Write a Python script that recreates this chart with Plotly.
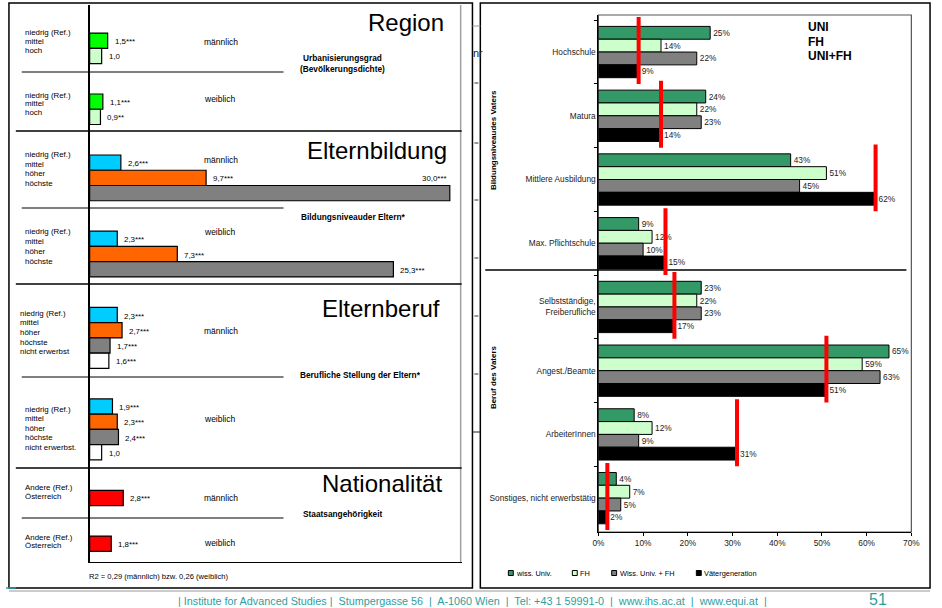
import plotly.graph_objects as go

W, H = 942, 608
FONT = "Liberation Sans, Arial, sans-serif"


def fx(p):
    return p / W


def fy(p):
    return 1 - p / H


# ---------------- left panel: odds ratios by gender ----------------
region_rows = ["niedrig (Ref.)", "mittel", "hoch"]
region_levels = ["mittel", "hoch"]
region_m = [1.5, 1.0]
region_m_sig = ["***", ""]
region_w = [1.1, 0.9]
region_w_sig = ["***", "**"]

bildung_rows = ["niedrig (Ref.)", "mittel", "höher", "höchste"]
bildung_levels = ["mittel", "höher", "höchste"]
bildung_m = [2.6, 9.7, 30.0]
bildung_m_sig = ["***", "***", "***"]
bildung_w = [2.3, 7.3, 25.3]
bildung_w_sig = ["***", "***", "***"]

beruf_rows_m = ["niedrig (Ref.)", "mittel", "höher", "höchste", "nicht erwerbst"]
beruf_rows_w = ["niedrig (Ref.)", "mittel", "höher", "höchste", "nicht erwerbst."]
beruf_levels = ["mittel", "höher", "höchste", "nicht erwerbst."]
beruf_m = [2.3, 2.7, 1.7, 1.6]
beruf_m_sig = ["***", "***", "***", "***"]
beruf_w = [1.9, 2.3, 2.4, 1.0]
beruf_w_sig = ["***", "***", "***", ""]

nat_rows = ["Andere (Ref.)", "Österreich"]
nat_levels = ["Österreich"]
nat_m = [2.8]
nat_m_sig = ["***"]
nat_w = [1.8]
nat_w_sig = ["***"]

section_titles = ["Region", "Elternbildung", "Elternberuf", "Nationalität"]
section_subtitles = ["Urbanisierungsgrad<br>(Bevölkerungsdichte)",
                     "Bildungsniveauder Eltern*",
                     "Berufliche Stellung der Eltern*",
                     "Staatsangehörigkeit"]
gender_labels = ["männlich", "weiblich"]
r2_note = "R2 = 0,29 (männlich) bzw. 0,26 (weiblich)"

# ---------------- right panel: shares by father's background ----------------
vater_categories = ["Hochschule", "Matura", "Mittlere Ausbildung", "Max. Pflichtschule",
                    "Selbstständige,<br>Freiberufliche", "Angest./Beamte",
                    "ArbeiterInnen", "Sonstiges, nicht erwerbstätig"]
uni = [25, 24, 43, 9, 23, 65, 8, 4]
fh = [14, 22, 51, 12, 22, 59, 12, 7]
uni_fh = [22, 23, 45, 10, 23, 63, 9, 5]
vaeter = [9, 14, 62, 15, 17, 51, 31, 2]
series_names = ["wiss. Univ.", "FH", "Wiss. Univ. + FH", "Vätergeneration"]
pct_ticks = [0, 10, 20, 30, 40, 50, 60, 70]

# colours
GREEN, LIGHT = "#00ff00", "#ccffcc"
CYAN, ORANGE, GREY, WHITE, RED = "#00ccff", "#ff6600", "#808080", "#ffffff", "#ff0000"
R_COLORS = ["#339966", "#ccffcc", "#808080", "#000000"]
TEAL = "#2f9ea0"

fig = go.Figure()
shapes = []
ann = []


def text(x, y, s, size=8.5, xa="left", ya="middle", bold=False, color="#000", angle=0):
    ann.append(dict(x=fx(x), y=fy(y), xref="paper", yref="paper", text=s, showarrow=False,
                    xanchor=xa, yanchor=ya, textangle=angle,
                    font=dict(family=FONT, size=size, color=color,
                              weight="bold" if bold else "normal")))


def hline(x0, x1, y, color="#000", w=1.2):
    shapes.append(dict(type="line", xref="paper", yref="paper", x0=fx(x0), x1=fx(x1),
                       y0=fy(y), y1=fy(y), line=dict(color=color, width=w), layer="below"))


# panel frames
shapes.append(dict(type="rect", xref="paper", yref="paper", x0=fx(3), x1=fx(474),
                   y0=fy(3), y1=fy(588), line=dict(color="#000", width=1.5),
                   fillcolor="white", layer="below"))
shapes.append(dict(type="rect", xref="paper", yref="paper", x0=fx(482), x1=fx(939),
                   y0=fy(3), y1=fy(588), line=dict(color="#000", width=1.5),
                   fillcolor="white", layer="below"))
shapes.append(dict(type="line", xref="paper", yref="paper", x0=fx(462), x1=fx(462),
                   y0=fy(5), y1=fy(562), line=dict(color="#a0a0a0", width=1.5), layer="below"))
hline(3, 939, 591, "#9a9a9a", 1.2)
hline(0, 10, 588, TEAL, 1.5)

# ---- left bar chart built from the arrays ----
blocks = [
    (region_levels, region_m, region_m_sig, [GREEN, LIGHT]),
    (region_levels, region_w, region_w_sig, [GREEN, LIGHT]),
    (bildung_levels, bildung_m, bildung_m_sig, [CYAN, ORANGE, GREY]),
    (bildung_levels, bildung_w, bildung_w_sig, [CYAN, ORANGE, GREY]),
    (beruf_levels, beruf_m, beruf_m_sig, [CYAN, ORANGE, GREY, WHITE]),
    (beruf_levels, beruf_w, beruf_w_sig, [CYAN, ORANGE, GREY, WHITE]),
    (nat_levels, nat_m, nat_m_sig, [RED]),
    (nat_levels, nat_w, nat_w_sig, [RED]),
]
cat_order, ys, xs, cols, labels = [], [], [], [], []
for b, (levels, vals, sig, colors) in enumerate(blocks):
    if b > 0:
        cat_order += [f"gap{b}a", f"gap{b}b"]
    for lev, v, s, c in zip(levels, vals, sig, colors):
        key = f"{b}|{lev}"
        cat_order.append(key)
        ys.append(key)
        xs.append(v)
        cols.append(c)
        labels.append(f"{v:.1f}".replace(".", ",") + s)

fig.add_trace(go.Bar(x=xs, y=ys, orientation="h", width=1.0, xaxis="x", yaxis="y",
                     marker=dict(color=cols, line=dict(color="#000", width=1.2)),
                     hoverinfo="skip", showlegend=False))

X1_MAX = (463 - 85) / 12.2
for i, (k, v, lab) in enumerate(zip(ys, xs, labels)):
    if v > 0.9 * X1_MAX:
        prev = cat_order[cat_order.index(k) - 1]
        ann.append(dict(x=v, y=prev, xref="x", yref="y", text=lab, showarrow=False,
                        xanchor="right", yanchor="middle", xshift=-1, yshift=-1,
                        font=dict(family=FONT, size=7.9, color="#000")))
    else:
        ann.append(dict(x=v, y=k, xref="x", yref="y", text=lab, showarrow=False,
                        xanchor="left", yanchor="middle", xshift=5, yshift=-1,
                        font=dict(family=FONT, size=7.9, color="#000")))

# row labels (reference category + levels)
row_blocks = [
    (region_rows, 17, 33, 8.6), (region_rows, 17, 95, 8.6),
    (bildung_rows, 17, 155, 9.4), (bildung_rows, 17, 232, 9.7),
    (beruf_rows_m, 12, 313, 9.7), (beruf_rows_w, 17, 409, 9.5),
    (nat_rows, 17, 487, 9.0), (nat_rows, 17, 537, 8.6),
]
for rows, x0, y0, step in row_blocks:
    for j, r in enumerate(rows):
        text(x0, y0 + j * step, r, size=7.9)

# gender labels
for y, g in zip([42, 99, 160, 232, 331, 419, 498, 543], gender_labels * 4):
    text(199, y, g, size=8.5)

# section titles and subtitles
for (xr, y), t in zip([(447, 22), (450, 151), (443, 308), (445, 483)], section_titles):
    text(xr, y, t, size=24, xa="right")
for (xl, y), t in zip([(297, 63.5), (298, 217), (297, 375), (300, 514)], section_subtitles):
    text(xl, y, t, size=8.3, bold=True)

# separators
for y in [72, 208, 377, 518]:
    hline(16, 282, y, "#000", 1.2)
for y in [131, 284, 468]:
    hline(10, 463, y, "#000", 1.5)

text(82, 576, r2_note, size=7.6)

# ---- right grouped bar chart ----
for name, vals, c in zip(series_names, [uni, fh, uni_fh, vaeter], R_COLORS):
    fig.add_trace(go.Bar(x=vals, y=vater_categories, orientation="h", name=name,
                         xaxis="x2", yaxis="y2",
                         marker=dict(color=c, line=dict(color="#000", width=1)),
                         text=[f"{v}%" for v in vals], textposition="outside",
                         textfont=dict(family=FONT, size=8.3, color="#222"),
                         cliponaxis=False, constraintext="none",
                         hoverinfo="skip", showlegend=False))

for i, v in enumerate(vaeter):
    shapes.append(dict(type="line", xref="x2", yref="y2", x0=v, x1=v,
                       y0=i - 0.55, y1=i + 0.5, line=dict(color=RED, width=4),
                       layer="above"))

# plot frame top/right
shapes.append(dict(type="rect", xref="paper", yref="paper", x0=fx(602), x1=fx(920),
                   y0=fy(15), y1=fy(532), line=dict(color="#555", width=1.2), layer="below"))
hline(487, 915, 270, "#000", 1.5)

text(495, 140, "Bildungsniveaudes Vaters", size=8, bold=True, xa="center", angle=-90)
text(495, 377, "Beruf des Vaters", size=8, bold=True, xa="center", angle=-90)
for y, t in zip([27, 42, 56], ["UNI", "FH", "UNI+FH"]):
    text(813, y, t, size=12, bold=True)

# legend row
for xc, name, c in zip([513, 578, 618, 704], series_names, R_COLORS):
    shapes.append(dict(type="rect", xref="paper", yref="paper", x0=fx(xc - 2.5),
                       x1=fx(xc + 2.5), y0=fy(570.5), y1=fy(575.5),
                       fillcolor=c, line=dict(color="#000", width=1)))
    text(xc + 3.5, 573, name, size=7.4)

# remnants of the slide between panels
text(473, 53, "nr", size=11, xa="left", color="#222")
for y in [83, 143, 200, 258, 316, 374]:
    shapes.append(dict(type="line", xref="paper", yref="paper", x0=fx(476), x1=fx(480),
                       y0=fy(y), y1=fy(y), line=dict(color="#333", width=1)))
hline(474, 482, 26, "#999", 1)
hline(474, 482, 432, "#222", 1)

# footer
text(474, 601, "| Institute for Advanced Studies |  Stumpergasse 56  |  A-1060 Wien  |  "
     "Tel: +43 1 59991-0  |  www.ihs.ac.at  |  www.equi.at  |",
     size=10.8, xa="center", color=TEAL)
text(886, 599, "51", size=16, xa="center", color=TEAL)

fig.update_layout(
    width=W, height=H, margin=dict(l=0, r=0, t=0, b=0),
    paper_bgcolor="white", plot_bgcolor="rgba(0,0,0,0)",
    barmode="group", bargap=0.195, bargroupgap=0,
    font=dict(family=FONT, size=8.3, color="#000"),
    showlegend=False,
    xaxis=dict(domain=[fx(85), fx(463)], range=[0, X1_MAX], showgrid=False,
               zeroline=False, showticklabels=False, ticks="", showline=True,
               linecolor="#000", linewidth=1.2, anchor="y"),
    yaxis=dict(domain=[fy(562), fy(5)], type="category", categoryorder="array",
               categoryarray=cat_order, range=[34.2, -2.34], showgrid=False,
               zeroline=False, showticklabels=False, ticks="", showline=True,
               linecolor="#000", linewidth=1.5, anchor="x"),
    xaxis2=dict(domain=[fx(602), fx(920)], range=[0, 70], tickvals=pct_ticks,
                ticktext=[f"{t}%" for t in pct_ticks], ticks="outside", ticklen=3,
                tickcolor="#000", showgrid=False, zeroline=False, showline=True,
                linecolor="#000", linewidth=1.2, anchor="y2",
                tickfont=dict(family=FONT, size=8.3, color="#222")),
    yaxis2=dict(domain=[fy(532), fy(15)], type="category", categoryorder="array",
                categoryarray=vater_categories, autorange="reversed",
                tickson="boundaries", ticks="outside", ticklen=3, tickcolor="#000",
                showgrid=False, zeroline=False, showline=True, linecolor="#000",
                linewidth=1.2, anchor="x2",
                tickfont=dict(family=FONT, size=8.3, color="#222")),
    shapes=shapes, annotations=ann,
)

fig.write_html("out.html")
